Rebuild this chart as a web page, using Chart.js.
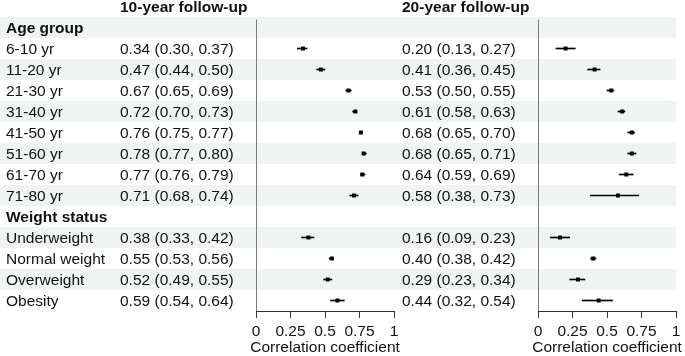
<!DOCTYPE html>
<html>
<head>
<meta charset="utf-8">
<script src="https://cdn.jsdelivr.net/npm/chart.js@4/dist/chart.umd.min.js"></script>
<style>
html,body{margin:0;padding:0;background:#fff;overflow:hidden}
#wrap{position:relative;width:685px;height:356px;background:#fff}
#c1{position:absolute;left:0;top:0}
#c2{position:absolute;left:395px;top:0}
</style>
</head>
<body>
<div id="wrap">
<canvas id="c1" width="410" height="356"></canvas>
<canvas id="c2" width="290" height="356"></canvas>
</div>
<script>
// ---- data ----
const rowLabels = ['Age group','6-10 yr','11-20 yr','21-30 yr','31-40 yr','41-50 yr','51-60 yr','61-70 yr','71-80 yr',
                   'Weight status','Underweight','Normal weight','Overweight','Obesity'];
const headerRows = [0, 9];
const panelTitles = ['10-year follow-up', '20-year follow-up'];
// 10-year follow-up
const est10 = [null,0.34,0.47,0.67,0.72,0.76,0.78,0.77,0.71,null,0.38,0.55,0.52,0.59];
const lo10  = [null,0.30,0.44,0.65,0.70,0.75,0.77,0.76,0.68,null,0.33,0.53,0.49,0.54];
const hi10  = [null,0.37,0.50,0.69,0.73,0.77,0.80,0.79,0.74,null,0.42,0.56,0.55,0.64];
// 20-year follow-up
const est20 = [null,0.20,0.41,0.53,0.61,0.68,0.68,0.64,0.58,null,0.16,0.40,0.29,0.44];
const lo20  = [null,0.13,0.36,0.50,0.58,0.65,0.65,0.59,0.38,null,0.09,0.38,0.23,0.32];
const hi20  = [null,0.27,0.45,0.55,0.63,0.70,0.71,0.69,0.73,null,0.23,0.42,0.34,0.54];
// axis
const tickValues = [0, 0.25, 0.5, 0.75, 1];
const tickLabels = ['0', '0.25', '0.5', '0.75', '1'];
const axisTitle = 'Correlation coefficient';

// ---- styling ----
const FONT = "'Liberation Sans', Arial, Helvetica, sans-serif";
const FS = 15.5;
const TXT = '#111';
const STRIPE = '#eff3f2';
Chart.defaults.font.family = FONT;
Chart.defaults.color = TXT;

function fmt(v){ return v.toFixed(2); }

function makePanel(canvasId, opt) {
  const {est, lo, hi, title, pad, valueX, showLabels, stripeToCanvas} = opt;
  const decor = {
    id: 'decor',
    beforeDraw(chart) {
      const ctx = chart.ctx, ys = chart.scales.y, xs = chart.scales.x, ca = chart.chartArea;
      const band = ys.getPixelForValue(1) - ys.getPixelForValue(0);
      ctx.save();
      ctx.fillStyle = STRIPE;
      const right = stripeToCanvas ? chart.width : ca.right;
      for (let i = 0; i < rowLabels.length; i += 2) {
        const yc = ys.getPixelForValue(i);
        ctx.fillRect(0, yc - band / 2, right, band);
      }
      // reference line at 0
      const x0 = Math.floor(xs.getPixelForValue(0)) + 0.5;
      ctx.strokeStyle = '#7a7a7a';
      ctx.lineWidth = 1;
      ctx.beginPath();
      ctx.moveTo(x0, ys.getPixelForValue(0) - 8);
      ctx.lineTo(x0, ca.bottom);
      ctx.stroke();
      // texts
      ctx.fillStyle = TXT;
      ctx.textBaseline = 'middle';
      ctx.textAlign = 'left';
      ctx.font = 'bold ' + FS + 'px ' + FONT;
      ctx.fillText(title, valueX, 8);
      for (let i = 0; i < rowLabels.length; i++) {
        const yc = ys.getPixelForValue(i) + 1;
        const isHead = headerRows.includes(i);
        if (showLabels) {
          ctx.font = (isHead ? 'bold ' : '') + FS + 'px ' + FONT;
          ctx.fillText(rowLabels[i], 6, yc);
        }
        if (est[i] !== null) {
          ctx.font = FS + 'px ' + FONT;
          ctx.fillText(fmt(est[i]) + ' (' + fmt(lo[i]) + ', ' + fmt(hi[i]) + ')', valueX, yc);
        }
      }
      // axis title (drawn without width squeezing)
      ctx.font = FS + 'px ' + FONT;
      ctx.textAlign = 'center';
      ctx.fillText(axisTitle, (ca.left + ca.right) / 2, 348);
      ctx.restore();
    }
  };
  const ci = lo.map((l, i) => l === null ? null : [l, hi[i]]);
  return new Chart(document.getElementById(canvasId), {
    type: 'bar',
    data: {
      labels: rowLabels,
      datasets: [
        { type: 'line', indexAxis: 'y', data: est, showLine: false, pointStyle: 'rect',
          pointRadius: 2.8, pointHoverRadius: 2.8, pointBackgroundColor: '#000', pointBorderWidth: 0,
          borderColor: '#000', order: 0, clip: false },
        { type: 'bar', data: ci, backgroundColor: '#000', borderWidth: 0, barThickness: 1,
          order: 1, clip: false }
      ]
    },
    options: {
      indexAxis: 'y',
      responsive: false,
      animation: false,
      events: [],
      layout: { padding: pad },
      plugins: { legend: { display: false }, tooltip: { enabled: false } },
      scales: {
        x: {
          type: 'linear', min: 0, max: 1,
          afterBuildTicks: s => { s.ticks = tickValues.map(v => ({ value: v })); },
          afterFit: s => { s.height = 45; },
          ticks: { callback: (v, i) => tickLabels[i], color: TXT, font: { size: FS }, padding: 4,
                   maxRotation: 0, autoSkip: false },
          grid: { drawOnChartArea: false, drawTicks: true, tickLength: 7, color: '#333', lineWidth: 1 },
          border: { display: true, color: '#333', width: 1 },
          title: { display: false }
        },
        y: { type: 'category', labels: rowLabels, display: false, offset: true }
      }
    },
    plugins: [decor]
  });
}

makePanel('c1', { est: est10, lo: lo10, hi: hi10, title: panelTitles[0],
  pad: { left: 256, right: 16, top: 17, bottom: 0 }, valueX: 120, showLabels: true, stripeToCanvas: true });
makePanel('c2', { est: est20, lo: lo20, hi: hi20, title: panelTitles[1],
  pad: { left: 143, right: 9, top: 17, bottom: 0 }, valueX: 7, showLabels: false, stripeToCanvas: false });
</script>
</body>
</html>
